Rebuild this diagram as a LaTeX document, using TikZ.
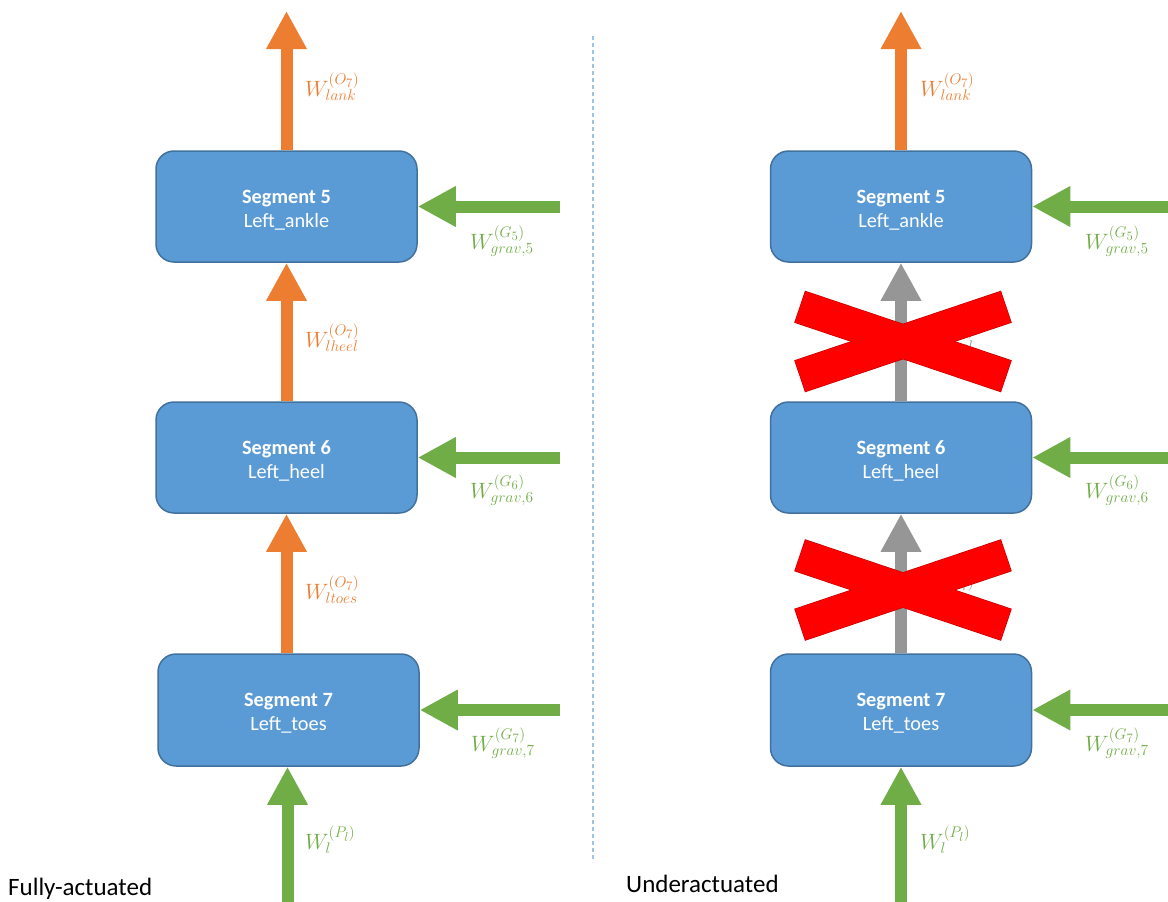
\documentclass[tikz,border=0pt]{standalone}
\usepackage{fontspec}
\setmainfont{Carlito}
\usetikzlibrary{arrows.meta}
\definecolor{boxfill}{HTML}{5B9BD5}
\definecolor{boxline}{HTML}{41719C}
\definecolor{orng}{HTML}{ED7D31}
\definecolor{grn}{HTML}{70AD47}
\definecolor{gry}{HTML}{969696}
\definecolor{xred}{HTML}{FF0000}
\definecolor{xline}{HTML}{C00000}
\definecolor{dashc}{HTML}{9DC3E6}
\newcommand{\segtxt}[2]{\rule{0pt}{20.5pt}\textbf{#1}\\#2}
\tikzset{
  seg/.style={draw=boxline, fill=boxfill, line width=1.5pt, rounded corners=18pt,
    minimum width=261pt, minimum height=111pt, inner sep=0pt, text=white,
    align=center, font=\fontsize{20.3}{24}\selectfont},
  fat/.style={line width=12pt, -{Triangle[length=38pt,width=38pt]}},
  oarrow/.style={fat, draw=orng, fill=orng},
  garrow/.style={fat, draw=grn, fill=grn},
  grarrow/.style={fat, draw=gry, fill=gry},
  lab/.style={anchor=west, inner sep=0pt, font=\fontsize{20.74}{25}\selectfont, scale=1.07, transform shape},
  olab/.style={lab, text=orng},
  glab/.style={lab, text=grn},
  graylab/.style={lab, text=gry},
  xbar/.style={minimum width=217pt, minimum height=32.6pt, inner sep=0pt},
  xbarline/.style={xbar, draw=xline, line width=1.2pt},
  xbarfill/.style={xbar, fill=xred},
  caption/.style={anchor=base west, inner sep=0pt, font=\fontsize{25}{30}\selectfont},
  divider/.style={draw=dashc, line width=1.2pt, dash pattern=on 4pt off 3pt}
}
\begin{document}
\begin{tikzpicture}[x=1pt,y=-1pt]
\useasboundingbox (0,0) rectangle (1168,902);

% divider
\coordinate (dtop) at (593,36);
\coordinate (dbot) at (593,862);
\draw[divider] (dtop) -- (dbot);

% ---------- left: fully actuated ----------
\node[seg] (L5) at (286.5,206.5) {\segtxt{Segment 5}{Left\_ankle}};
\node[seg] (L6) at (286.5,457.5) {\segtxt{Segment 6}{Left\_heel}};
\node[seg, minimum height=112pt] (L7) at (288.5,710) {\segtxt{Segment 7}{Left\_toes}};

\coordinate (LT) at (286.5,11);
\coordinate (LB) at (287.5,902);
\coordinate (LG5) at (560,206.5);
\coordinate (LG6) at (560,457.5);
\coordinate (LG7) at (560,710);

\draw[oarrow] (L5.north) -- (LT);
\draw[oarrow] (L6.north) -- (L5.south);
\draw[oarrow] (L7.north -| L6.south) -- (L6.south);
\draw[garrow] (LB) -- (LB |- L7.south);
\draw[garrow] (LG5) -- (L5.east);
\draw[garrow] (LG6) -- (L6.east);
\draw[garrow] (LG7) -- (LG7 -| L7.east);

\node[olab] (lw1) at (305,87) {$W^{(O_7)}_{lank}$};
\node[olab] (lw2) at (305,338) {$W^{(O_7)}_{lheel}$};
\node[olab] (lw3) at (305,590) {$W^{(O_7)}_{ltoes}$};
\node[glab] (lg5) at (470,241) {$W^{(G_5)}_{grav,5}$};
\node[glab] (lg6) at (470,490) {$W^{(G_6)}_{grav,6}$};
\node[glab] (lg7) at (471,743) {$W^{(G_7)}_{grav,7}$};
\node[glab] (lp) at (305,840) {$W^{(P_l)}_{l}$};

\node[caption] (capL) at (8,895) {Fully-actuated};

% ---------- right: underactuated ----------
\node[seg] (R5) at (901,206.5) {\segtxt{Segment 5}{Left\_ankle}};
\node[seg] (R6) at (901,457.5) {\segtxt{Segment 6}{Left\_heel}};
\node[seg, minimum height=112pt] (R7) at (901,710) {\segtxt{Segment 7}{Left\_toes}};

\coordinate (RT) at (901,11);
\coordinate (RB) at (901,902);
\coordinate (RG5) at (1168,206.5);
\coordinate (RG6) at (1168,457.5);
\coordinate (RG7) at (1168,710);

\draw[oarrow] (R5.north) -- (RT);
\draw[grarrow] (R6.north) -- (R5.south);
\draw[grarrow] (R7.north) -- (R6.south);
\draw[garrow] (RB) -- (R7.south);
\draw[garrow] (RG5) -- (R5.east);
\draw[garrow] (RG6) -- (R6.east);
\draw[garrow] (RG7) -- (R7.east);

\node[olab] (rw1) at (920,87) {$W^{(O_7)}_{lank}$};
\node[graylab] (rw2) at (920,338) {$W^{(O_7)}_{lheel}$};
\node[graylab] (rw3) at (920,590) {$W^{(O_7)}_{ltoes}$};
\node[glab] (rg5) at (1085,241) {$W^{(G_5)}_{grav,5}$};
\node[glab] (rg6) at (1085,490) {$W^{(G_6)}_{grav,6}$};
\node[glab] (rg7) at (1085,743) {$W^{(G_7)}_{grav,7}$};
\node[glab] (rp) at (920,840) {$W^{(P_l)}_{l}$};

\node[caption] (capR) at (626,892) {Underactuated};

% red crosses
\node[xbarline, rotate=-18.6] (xa1) at (903,341.5) {};
\node[xbarline, rotate=18.6] (xa2) at (903,341.5) {};
\node[xbarfill, rotate=-18.6] (xa3) at (903,341.5) {};
\node[xbarfill, rotate=18.6] (xa4) at (903,341.5) {};
\node[xbarline, rotate=-18.6] (xb1) at (903,590) {};
\node[xbarline, rotate=18.6] (xb2) at (903,590) {};
\node[xbarfill, rotate=-18.6] (xb3) at (903,590) {};
\node[xbarfill, rotate=18.6] (xb4) at (903,590) {};
\end{tikzpicture}
\end{document}
